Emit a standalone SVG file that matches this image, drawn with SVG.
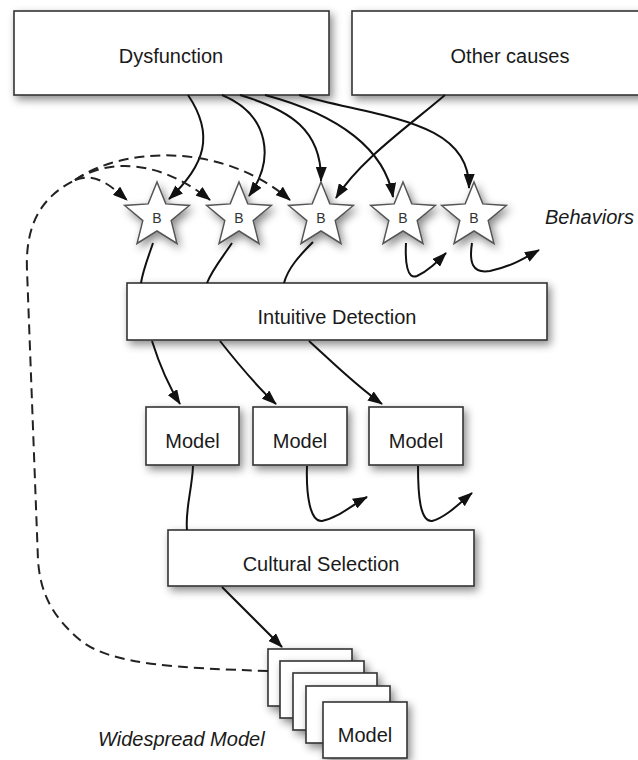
<svg xmlns="http://www.w3.org/2000/svg" xmlns:xlink="http://www.w3.org/1999/xlink" width="638" height="760" viewBox="0 0 638 760">
<style>
.box{fill:#fff;stroke:#333;stroke-width:1.6;filter:url(#sh)}
.star{fill:#fff;stroke:#555;stroke-width:1.5;filter:url(#sh)}
.t{font-family:"Liberation Sans",Arial,sans-serif;font-size:20px;fill:#1a1a1a;text-anchor:middle}
.b{font-family:"Liberation Sans",Arial,sans-serif;font-size:14px;fill:#333;text-anchor:middle}
.it{font-family:"Liberation Sans",Arial,sans-serif;font-size:20px;font-style:italic;fill:#1a1a1a}
.c{fill:none;stroke:#111;stroke-width:2}
.a{marker-end:url(#ah)}
.d{fill:none;stroke:#222;stroke-width:2;stroke-dasharray:10,6}
</style>
<defs>
<filter id="sh" x="-20%" y="-20%" width="150%" height="160%">
<feDropShadow dx="3" dy="4" stdDeviation="4" flood-color="#000" flood-opacity="0.45"/>
</filter>
<marker id="ah" markerUnits="userSpaceOnUse" markerWidth="15" markerHeight="11" refX="14" refY="5.5" orient="auto">
<path d="M0,0 L15,5.5 L0,11 z" fill="#111"/>
</marker>
<polygon id="starShape" points="0,-34 8.8,-12.1 32.34,-10.51 14.2,4.6 19.98,27.51 0,15 -19.98,27.51 -14.2,4.6 -32.34,-10.51 -8.8,-12.1"/>
</defs>
<rect width="638" height="760" fill="#fff"/>

<g id="dysfunction"><rect class="box" x="14" y="11" width="315" height="84"/><text class="t" x="171" y="63">Dysfunction</text></g>
<g id="other-causes"><rect class="box" x="352" y="11" width="316" height="84"/><text class="t" x="510" y="63">Other causes</text></g>

<g id="star1"><use xlink:href="#starShape" class="star" x="157" y="216"/><text class="b" x="157" y="223">B</text></g>
<g id="star2"><use xlink:href="#starShape" class="star" x="239" y="216"/><text class="b" x="239" y="223">B</text></g>
<g id="star3"><use xlink:href="#starShape" class="star" x="321" y="216"/><text class="b" x="321" y="223">B</text></g>
<g id="star4"><use xlink:href="#starShape" class="star" x="403" y="216"/><text class="b" x="403" y="223">B</text></g>
<g id="star5"><use xlink:href="#starShape" class="star" x="474" y="216"/><text class="b" x="474" y="223">B</text></g>
<g id="behaviors-label"><text class="it" x="545" y="224">Behaviors</text></g>

<g id="intuitive-detection"><rect class="box" x="127" y="283" width="420" height="57"/><text class="t" x="337" y="324">Intuitive Detection</text></g>

<g id="model1"><rect class="box" x="146" y="407" width="93" height="58"/><text class="t" x="192.5" y="448">Model</text></g>
<g id="model2"><rect class="box" x="253" y="407" width="94" height="58"/><text class="t" x="300" y="448">Model</text></g>
<g id="model3"><rect class="box" x="369" y="407" width="94" height="58"/><text class="t" x="416" y="448">Model</text></g>

<g id="cultural-selection"><rect class="box" x="168" y="530" width="306" height="56"/><text class="t" x="321" y="571">Cultural Selection</text></g>

<g id="widespread-model">
<rect class="box" x="268" y="649" width="84" height="57"/>
<rect class="box" x="280" y="661" width="84" height="57"/>
<rect class="box" x="293" y="673" width="84" height="57"/>
<rect class="box" x="306" y="686" width="84" height="57"/>
<rect class="box" x="323" y="702" width="84" height="56"/><text class="t" x="365" y="742">Model</text>
</g>
<g id="widespread-label"><text class="it" x="98" y="746">Widespread Model</text></g>

<g id="connectors">
<path class="c a" d="M188,95 C215,135 205,165 169,199"/>
<path class="c a" d="M222,95 C270,115 275,160 249,196"/>
<path class="c a" d="M240,95 C290,110 322,130 321,181"/>
<path class="c a" d="M265,95 C340,115 385,150 393,197"/>
<path class="c a" d="M299,95 C380,118 470,120 469,188"/>
<path class="c a" d="M445,95 C410,125 360,160 336,198"/>

<path class="c" d="M153,243 C148,258 143,270 141,283"/>
<path class="c" d="M232,243 C222,258 212,270 207,283"/>
<path class="c" d="M313,242 C300,255 288,268 284,283"/>
<path class="c a" d="M406,243 C405,262 407,280 417,276 C428,271 437,262 446,253"/>
<path class="c a" d="M472,243 C469,262 472,274 490,271 C510,267 525,258 539,250"/>

<path class="c a" d="M152,341 C158,360 168,385 180,404"/>
<path class="c a" d="M220,341 C235,360 255,385 276,404"/>
<path class="c a" d="M309,341 C330,360 355,385 382,404"/>

<path class="c" d="M193,466 C192,490 185,510 187,530"/>
<path class="c a" d="M307,466 C306,495 310,522 322,521 C338,518 352,505 367,497"/>
<path class="c a" d="M418,466 C418,495 420,522 432,521 C445,518 460,503 472,493"/>

<path class="c a" d="M222,587 L282,647"/>

<path class="d" d="M268,671 C180,668 110,665 80,640 C50,615 40,590 38,560 L27,270 C25,220 45,195 75,180"/>
<path class="d a" d="M75,180 C95,172 110,185 127,200"/>
<path class="d a" d="M75,180 C110,158 160,160 210,200"/>
<path class="d a" d="M75,180 C120,148 220,140 290,200"/>
</g>
</svg>
